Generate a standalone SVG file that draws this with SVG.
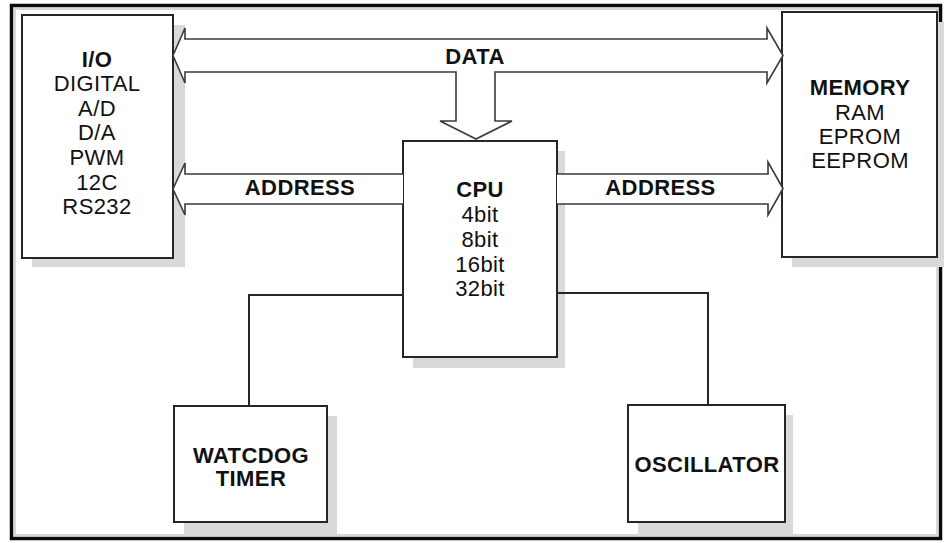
<svg xmlns="http://www.w3.org/2000/svg" width="944" height="543" viewBox="0 0 944 543">
<style>
.box{fill:#fff;stroke:#262626;stroke-width:2}
.shadow{fill:#d9d9d9}
.bus{fill:#fff;stroke:#3a3a3a;stroke-width:1.6;stroke-linejoin:miter}
.wire{fill:none;stroke:#262626;stroke-width:2}
text{font-family:"Liberation Sans",Arial,Helvetica,sans-serif;font-size:22px;letter-spacing:0.4px;fill:#111;text-anchor:middle}
.b{font-weight:bold}
</style>
<rect x="0" y="0" width="944" height="543" fill="#fff"/>
<rect x="11.5" y="5.5" width="929" height="533" fill="none" stroke="#0a0a0a" stroke-width="3.5"/>
<rect x="15" y="9" width="922" height="526" fill="none" stroke="#b0b0b0" stroke-width="1"/>

<g id="io">
  <rect class="shadow" x="32" y="25" width="153" height="242"/>
  <rect class="box" x="22" y="15" width="151" height="243"/>
  <text class="b" x="97" y="66.5">I/O</text>
  <text x="97" y="91.1">DIGITAL</text>
  <text x="97" y="115.7">A/D</text>
  <text x="97" y="140.3">D/A</text>
  <text x="97" y="164.9">PWM</text>
  <text x="97" y="189.5">12C</text>
  <text x="97" y="214.1">RS232</text>
</g>

<g id="memory">
  <rect class="shadow" x="792" y="22" width="152" height="245"/>
  <rect class="box" x="782" y="12" width="155" height="245"/>
  <text class="b" x="860" y="95">MEMORY</text>
  <text x="860" y="120">RAM</text>
  <text x="860" y="144">EPROM</text>
  <text x="860" y="168">EEPROM</text>
</g>

<g id="cpu">
  <rect class="shadow" x="413" y="151" width="152" height="217"/>
  <rect class="box" x="403" y="141" width="154" height="216"/>
  <text class="b" x="480" y="197">CPU</text>
  <text x="480" y="222">4bit</text>
  <text x="480" y="247">8bit</text>
  <text x="480" y="272">16bit</text>
  <text x="480" y="296">32bit</text>
</g>

<g id="watchdog">
  <rect class="shadow" x="184" y="416" width="153" height="119"/>
  <rect class="box" x="174" y="406" width="153" height="116"/>
  <text class="b" x="251" y="463">WATCDOG</text>
  <text class="b" x="251" y="486">TIMER</text>
</g>

<g id="oscillator">
  <rect class="shadow" x="638" y="415" width="155" height="120"/>
  <rect class="box" x="628" y="405" width="157" height="117"/>
  <text class="b" x="707" y="472">OSCILLATOR</text>
</g>

<g id="connectors">
  <path id="data-bus" class="bus" d="M173,55.5 L185,28 L185,39 L767,39 L767,28 L783,55.5 L767,83 L767,72 L495,72 L495,121 L512,121 L476,139 L440,121 L456,121 L456,72 L185,72 L185,83 Z"/>
  <path id="address-left" class="bus" d="M403,174 L185,174 L185,163 L173,189 L185,215 L185,204 L403,204"/>
  <path id="address-right" class="bus" d="M557,174 L768,174 L768,162 L783,188.5 L768,215 L768,204 L557,204"/>
  <polyline class="wire" points="403,295 249,295 249,406"/>
  <polyline class="wire" points="557,293 708,293 708,405"/>
  <text class="b" x="475" y="63.5">DATA</text>
  <text class="b" x="300" y="195">ADDRESS</text>
  <text class="b" x="660.5" y="195">ADDRESS</text>
</g>
</svg>
